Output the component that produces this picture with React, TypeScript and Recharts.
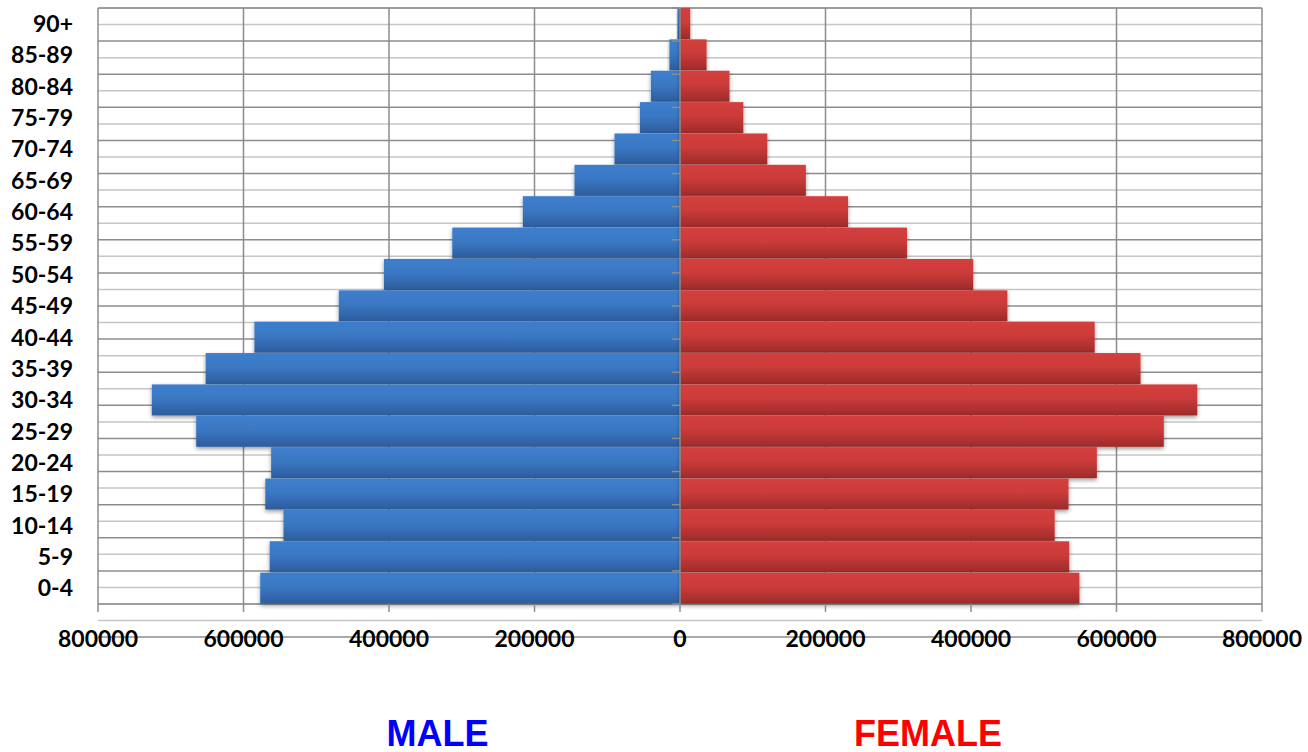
import React from 'react';
import { BarChart, Bar, XAxis, YAxis, CartesianGrid, ReferenceLine } from 'recharts';

const categories = ['90+', '85-89', '80-84', '75-79', '70-74', '65-69', '60-64', '55-59', '50-54', '45-49', '40-44', '35-39', '30-34', '25-29', '20-24', '15-19', '10-14', '5-9', '0-4'];
const maleValues = [3500, 14500, 40000, 55000, 90000, 145000, 216000, 313000, 407000, 469000, 585000, 652000, 726000, 665000, 562000, 570000, 545000, 564000, 577000];
const femaleValues = [14000, 36500, 68000, 87000, 120000, 173000, 231000, 312000, 403000, 450000, 570000, 633000, 711000, 665000, 573000, 534000, 515000, 535000, 549000];
const xTicks = [-800000, -600000, -400000, -200000, 0, 200000, 400000, 600000, 800000];
const boundaryTicks = Array.from({ length: categories.length + 1 }, (_, i) => i);
const centerTicks = categories.map((_, i) => i + 0.5);

const data = categories.map((age, i) => ({ age, male: -maleValues[i], female: femaleValues[i] }));

const tickFont = { fontFamily: 'Lato, "Liberation Sans", sans-serif', fontWeight: 700, fontSize: 23, fill: '#000' };

const makeShape = (fill: string) => (props: any) => {
  const { x, y, width, height } = props;
  if (width == null || height == null) return <g />;
  const rx = width < 0 ? x + width : x;
  const w = Math.abs(width);
  return <rect x={rx} y={y} width={w} height={height} fill={fill} filter="url(#barShadow)" />;
};

const labelStyle: React.CSSProperties = {
  position: 'absolute',
  top: 716,
  width: 240,
  textAlign: 'center',
  fontFamily: '"Liberation Sans", Arial, sans-serif',
  fontWeight: 700,
  fontSize: 36,
  lineHeight: 1,
};

export default function App() {
  return (
    <div style={{ position: 'absolute', left: 0, top: 0, width: 1308, height: 752, background: '#fff' }}>
      <BarChart
        width={1308}
        height={752}
        data={data}
        layout="vertical"
        stackOffset="sign"
        barCategoryGap={0}
        margin={{ top: 8, right: 46, left: 0, bottom: 88 }}
      >
        <defs>
          <linearGradient id="blueGrad" x1="0" y1="0" x2="0" y2="1">
            <stop offset="0%" stopColor="#3E7ECC" />
            <stop offset="45%" stopColor="#3A78C4" />
            <stop offset="100%" stopColor="#2D5C9C" />
          </linearGradient>
          <linearGradient id="redGrad" x1="0" y1="0" x2="0" y2="1">
            <stop offset="0%" stopColor="#D43F3D" />
            <stop offset="45%" stopColor="#CB3B39" />
            <stop offset="100%" stopColor="#9C2B2A" />
          </linearGradient>
          <filter id="barShadow" x="-20%" y="-30%" width="140%" height="170%">
            <feDropShadow dx="0" dy="2" stdDeviation="2" floodColor="#000" floodOpacity="0.4" />
          </filter>
        </defs>
        <CartesianGrid yAxisId="center" horizontal vertical={false} stroke="#c6c6c6" strokeWidth={1.5} />
        <CartesianGrid yAxisId="grid" horizontal vertical={false} stroke="#8c8c8c" strokeWidth={1.5} />
        <CartesianGrid yAxisId="grid" horizontal={false} vertical stroke="#8c8c8c" strokeWidth={1.5} />
        <XAxis
          type="number"
          domain={[-800000, 800000]}
          ticks={xTicks}
          tickFormatter={(v: number) => String(Math.abs(v))}
          tick={tickFont}
          axisLine={false}
          tickLine={{ stroke: '#8c8c8c', strokeWidth: 1.5 }}
          tickSize={8}
          tickMargin={19}
          height={60}
          interval={0}
        />
        <YAxis
          type="category"
          dataKey="age"
          width={98}
          tick={tickFont}
          axisLine={false}
          tickLine={false}
          tickSize={0}
          tickMargin={25}
          interval={0}
        />
        <YAxis yAxisId="grid" type="number" domain={[0, categories.length]} ticks={boundaryTicks} hide />
        <YAxis yAxisId="center" type="number" domain={[0, categories.length]} ticks={centerTicks} hide />
        <Bar dataKey="male" stackId="a" isAnimationActive={false} shape={makeShape('url(#blueGrad)')} />
        <Bar dataKey="female" stackId="a" isAnimationActive={false} shape={makeShape('url(#redGrad)')} />
        <ReferenceLine x={0} stroke="#8c8c8c" strokeWidth={1.5} />
        {boundaryTicks.map((t) => (
          <ReferenceLine
            key={t}
            yAxisId="grid"
            segment={[{ x: -11000, y: t }, { x: 0, y: t }]}
            stroke="#8c8c8c"
            strokeWidth={1.5}
          />
        ))}
      </BarChart>
      <div style={{ ...labelStyle, left: 437.5 - 120, color: '#0000FF' }}>MALE</div>
      <div style={{ ...labelStyle, left: 928 - 120, color: '#FF0000' }}>FEMALE</div>
    </div>
  );
}
